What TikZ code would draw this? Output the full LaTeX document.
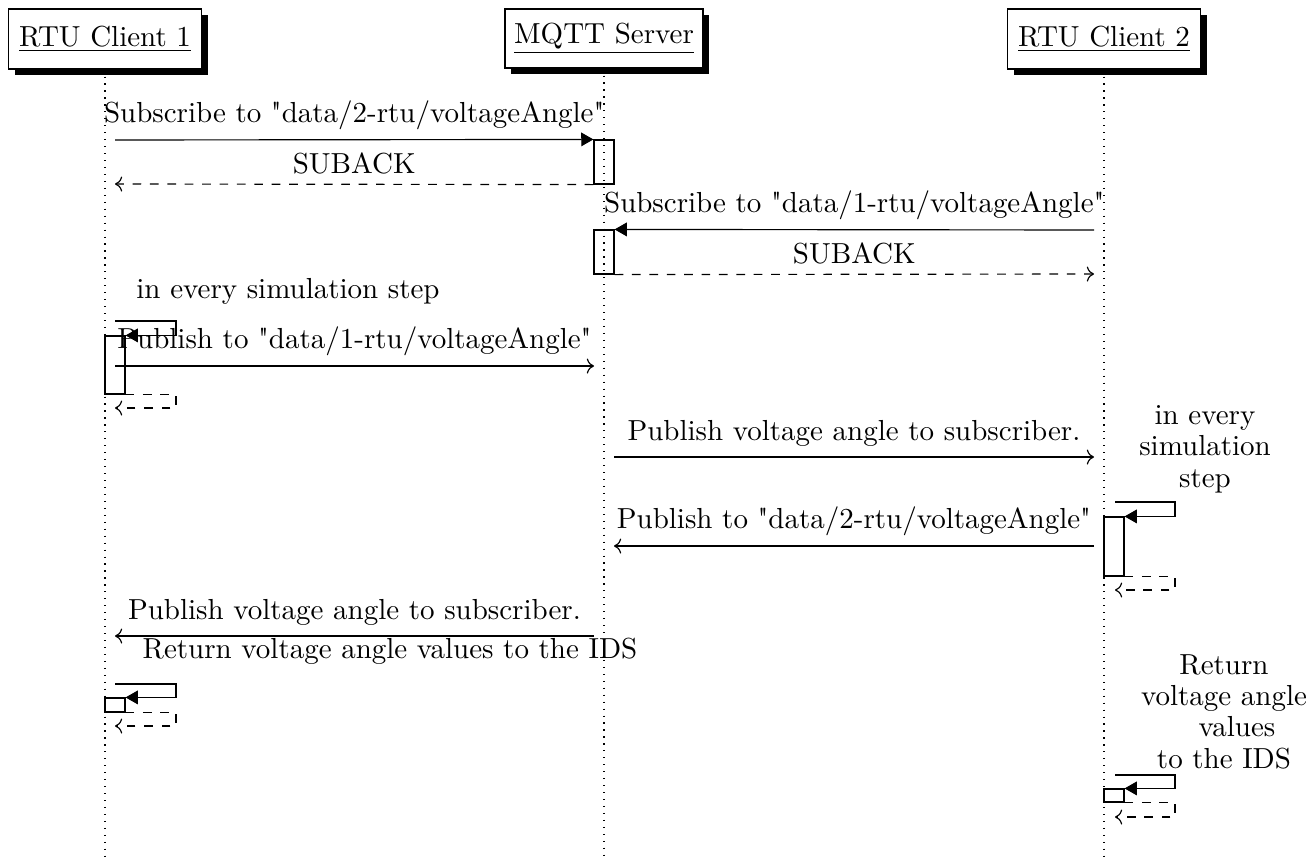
\documentclass[tikz,border=0pt]{standalone}
\usepackage{fontspec}
\setmainfont{Latin Modern Roman}[Ligatures=TeXOff]
\usetikzlibrary{arrows.meta,shadows}
% one drawing unit
\def\pu{0.345pt}
\tikzset{
  actor/.style={draw, fill=white, minimum width=193*\pu, minimum height=60*\pu,
    inner sep=0pt,
    drop shadow={shadow xshift=6*\pu, shadow yshift=-6*\pu, fill=black, opacity=1}},
  lifeline/.style={dotted},
  actbar/.style={draw, minimum width=20*\pu, inner sep=0pt},
  call/.style={-{Triangle[length=4.2pt,width=4.7pt]}},
  msg/.style={->},
  ret/.style={dashed, ->},
  lbl/.style={above, inner sep=3.33pt},
  note/.style={align=center, inner sep=0pt, font=\fontsize{10}{10.8}\selectfont},
}
\begin{document}
\begin{tikzpicture}[x=\pu, y=-\pu]
\useasboundingbox (0,0) rectangle (1314,859);

% participants
\node[actor] (c1) at (105,39) {\underline{RTU Client 1}};
\node[actor, minimum width=198*\pu, minimum height=59*\pu] (srv) at (604,38.5) {\underline{MQTT Server}};
\node[actor] (c2) at (1104,39) {\underline{RTU Client 2}};

% lifelines
\coordinate (c1b) at (105,859);
\coordinate (srvb) at (604,859);
\coordinate (c2b) at (1104,859);
\draw[lifeline] (c1.south) -- (c1b);
\draw[lifeline] (srv.south) -- (srvb);
\draw[lifeline] (c2.south) -- (c2b);

% activation bars
\node[actbar, minimum height=44*\pu] (s1) at (604,162) {};
\node[actbar, minimum height=44*\pu] (s2) at (604,252) {};
\node[actbar, minimum height=58*\pu] (a1) at (115,365) {};
\node[actbar, minimum height=59*\pu] (b1) at (1114,546.5) {};
\node[actbar, minimum height=14*\pu] (a2) at (115,705) {};
\node[actbar, minimum height=13*\pu] (b2) at (1114,795.5) {};

% subscriptions
\coordinate (m1s) at (115,140);
\coordinate (m1r) at (115,184);
\draw[call] (m1s) -- (s1.north west) node[lbl, midway] (t1) {Subscribe to "data/2-rtu/voltageAngle"};
\draw[ret] (s1.south west) -- (m1r) node[lbl, midway] (t2) {SUBACK};

\coordinate (m2s) at (1094,230);
\coordinate (m2r) at (1094,274);
\draw[call] (m2s) -- (s2.north east) node[lbl, midway] (t3) {Subscribe to "data/1-rtu/voltageAngle"};
\draw[ret] (s2.south east) -- (m2r) node[lbl, midway] (t4) {SUBACK};

% client 1 simulation step
\node[anchor=base] (t5) at (288,298) {in every simulation step};
\coordinate (a1t) at (115,321);
\coordinate (a1c) at (176,321);
\coordinate (a1e) at (176,408);
\coordinate (a1f) at (115,408);
\draw[call] (a1t) -- (a1c) |- (a1.north east);
\draw[ret] (a1.south east) -| (a1e) -- (a1f);

\coordinate (p1s) at (115,366);
\coordinate (p1e) at (594,366);
\draw[msg] (p1s) -- (p1e) node[lbl, midway] (t6) {Publish to "data/1-rtu/voltageAngle"};

\coordinate (p2s) at (614,457);
\coordinate (p2e) at (1094,457);
\draw[msg] (p2s) -- (p2e) node[lbl, midway] (t7) {Publish voltage angle to subscriber.};

% client 2 simulation step
\node[note, anchor=base] (t8) at (1205,487) {in every\\simulation\\step};
\coordinate (b1t) at (1115,502);
\coordinate (b1c) at (1175,502);
\coordinate (b1e) at (1175,590);
\coordinate (b1f) at (1115,590);
\draw[call] (b1t) -- (b1c) |- (b1.north east);
\draw[ret] (b1.south east) -| (b1e) -- (b1f);

\coordinate (p3s) at (1094,546);
\coordinate (p3e) at (614,546);
\draw[msg] (p3s) -- (p3e) node[lbl, midway] (t9) {Publish to "data/2-rtu/voltageAngle"};

\coordinate (p4s) at (594,636);
\coordinate (p4e) at (115,636);
\draw[msg] (p4s) -- (p4e) node[lbl, midway] (t10) {Publish voltage angle to subscriber.};

% client 1 result
\node[anchor=base] (t11) at (390,658) {Return voltage angle values to the IDS};
\coordinate (a2t) at (115,684);
\coordinate (a2c) at (176,684);
\coordinate (a2e) at (176,726);
\coordinate (a2f) at (115,726);
\draw[call] (a2t) -- (a2c) |- (a2.north east);
\draw[ret] (a2.south east) -| (a2e) -- (a2f);

% client 2 result
\node[note, anchor=base] (t12) at (1224,768) {Return\\voltage angle\\\hspace*{9pt}values\\to the IDS};
\coordinate (b2t) at (1115,775);
\coordinate (b2c) at (1175,775);
\coordinate (b2e) at (1175,817);
\coordinate (b2f) at (1115,817);
\draw[call] (b2t) -- (b2c) |- (b2.north east);
\draw[ret] (b2.south east) -| (b2e) -- (b2f);
\end{tikzpicture}
\end{document}
